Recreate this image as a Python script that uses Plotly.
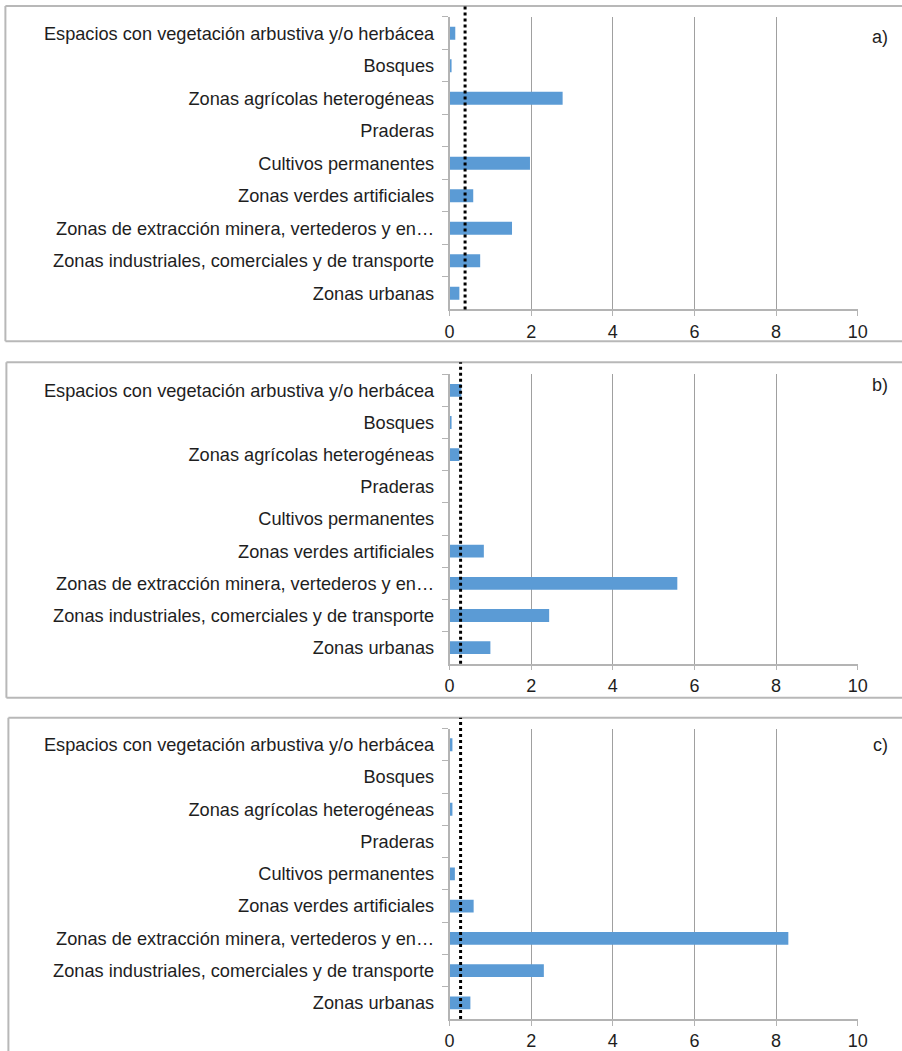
import plotly.graph_objects as go

# ---- data ----
categories = [
    "Espacios con vegetación arbustiva y/o herbácea",
    "Bosques",
    "Zonas agrícolas heterogéneas",
    "Praderas",
    "Cultivos permanentes",
    "Zonas verdes artificiales",
    "Zonas de extracción minera, vertederos y en…",
    "Zonas industriales, comerciales y de transporte",
    "Zonas urbanas",
]
values_a = [0.14, 0.03, 2.77, 0.0, 1.97, 0.58, 1.53, 0.75, 0.24]
values_b = [0.29, 0.03, 0.24, 0.0, 0.0, 0.84, 5.58, 2.44, 1.00]
values_c = [0.07, 0.0, 0.07, 0.0, 0.13, 0.59, 8.30, 2.31, 0.51]
reference_lines = [0.38, 0.27, 0.27]
panel_labels = ["a)", "b)", "c)"]
x_ticks = [0, 2, 4, 6, 8, 10]

series = [values_a, values_b, values_c]

# ---- layout geometry (pixels) ----
W, H = 902, 1051
# empirical horizontal calibration of the rendered page
def px_x(p):
    return (p - 4.6) / (0.983 * W)
def px_y(p):
    return 1 - p / H

plot_x = (449, 857)
plot_y = [(17, 310), (375, 665), (730, 1021)]
border = [(5, 6, 342), (6, 363, 699), (8, 719, 1065)]
label_pos = [(879, 37), (879, 386), (880, 746)]

FONT = "Liberation Sans, Arial, sans-serif"
TXT = "#1e1e1e"
BAR = "#5b9bd5"
GRID = "#a0a0a0"
AXIS = "#b4b4b4"
BORDER = "#b8b8b8"

fig = go.Figure()
shapes = []
annotations = []
layout_axes = {}

for i, vals in enumerate(series):
    n = i + 1
    xa = "x" if n == 1 else f"x{n}"
    ya = "y" if n == 1 else f"y{n}"
    fig.add_trace(go.Bar(
        x=vals, y=categories, orientation="h",
        marker=dict(color=BAR, line=dict(width=0)),
        xaxis=xa, yaxis=ya, showlegend=False,
    ))
    top, bot = plot_y[i]
    layout_axes[f"xaxis{n if n > 1 else ''}"] = dict(
        domain=[px_x(plot_x[0]), px_x(plot_x[1])],
        anchor=ya, range=[0, 10], tickvals=x_ticks,
        showgrid=True, gridcolor=GRID, gridwidth=1,
        zeroline=False, showline=True, linecolor=AXIS, linewidth=1.5,
        ticks="outside", ticklen=5, tickcolor=AXIS,
        tickfont=dict(family=FONT, size=18, color=TXT),
        fixedrange=True,
    )
    layout_axes[f"yaxis{n if n > 1 else ''}"] = dict(
        domain=[px_y(bot), px_y(top)],
        anchor=xa, autorange="reversed", type="category",
        showgrid=False, zeroline=False, showline=True,
        linecolor=AXIS, linewidth=1.5,
        ticks="outside", ticklen=6, tickcolor=AXIS, tickson="boundaries",
        ticklabelstandoff=10,
        tickfont=dict(family=FONT, size=18.2, color=TXT),
        fixedrange=True,
    )
    bx, btop, bbot = border[i]
    xl, xr = px_x(bx), px_x(W + 30)
    yt, yb = px_y(btop), px_y(bbot)
    for (x0, y0, x1, y1) in [(xl, yt, xr, yt), (xl, yb, xr, yb), (xl, yb, xl, yt)]:
        shapes.append(dict(
            type="line", xref="paper", yref="paper",
            x0=x0, y0=y0, x1=x1, y1=y1,
            line=dict(color=BORDER, width=2), layer="below",
        ))
    shapes.append(dict(
        type="line", xref=xa, yref="paper",
        x0=reference_lines[i], x1=reference_lines[i],
        y0=px_y(bot), y1=px_y(btop),
        line=dict(color="#000000", width=3, dash="dot"),
    ))
    lx, ly = label_pos[i]
    annotations.append(dict(
        text=panel_labels[i], xref="paper", yref="paper",
        x=px_x(lx), y=px_y(ly), xanchor="center", yanchor="middle",
        showarrow=False, font=dict(family=FONT, size=18, color=TXT),
    ))

fig.update_layout(
    width=W, height=H,
    margin=dict(l=0, r=0, t=0, b=0),
    paper_bgcolor="white", plot_bgcolor="white",
    bargap=0.6, showlegend=False,
    shapes=shapes, annotations=annotations,
    **layout_axes,
)

fig.write_html("out.html")
